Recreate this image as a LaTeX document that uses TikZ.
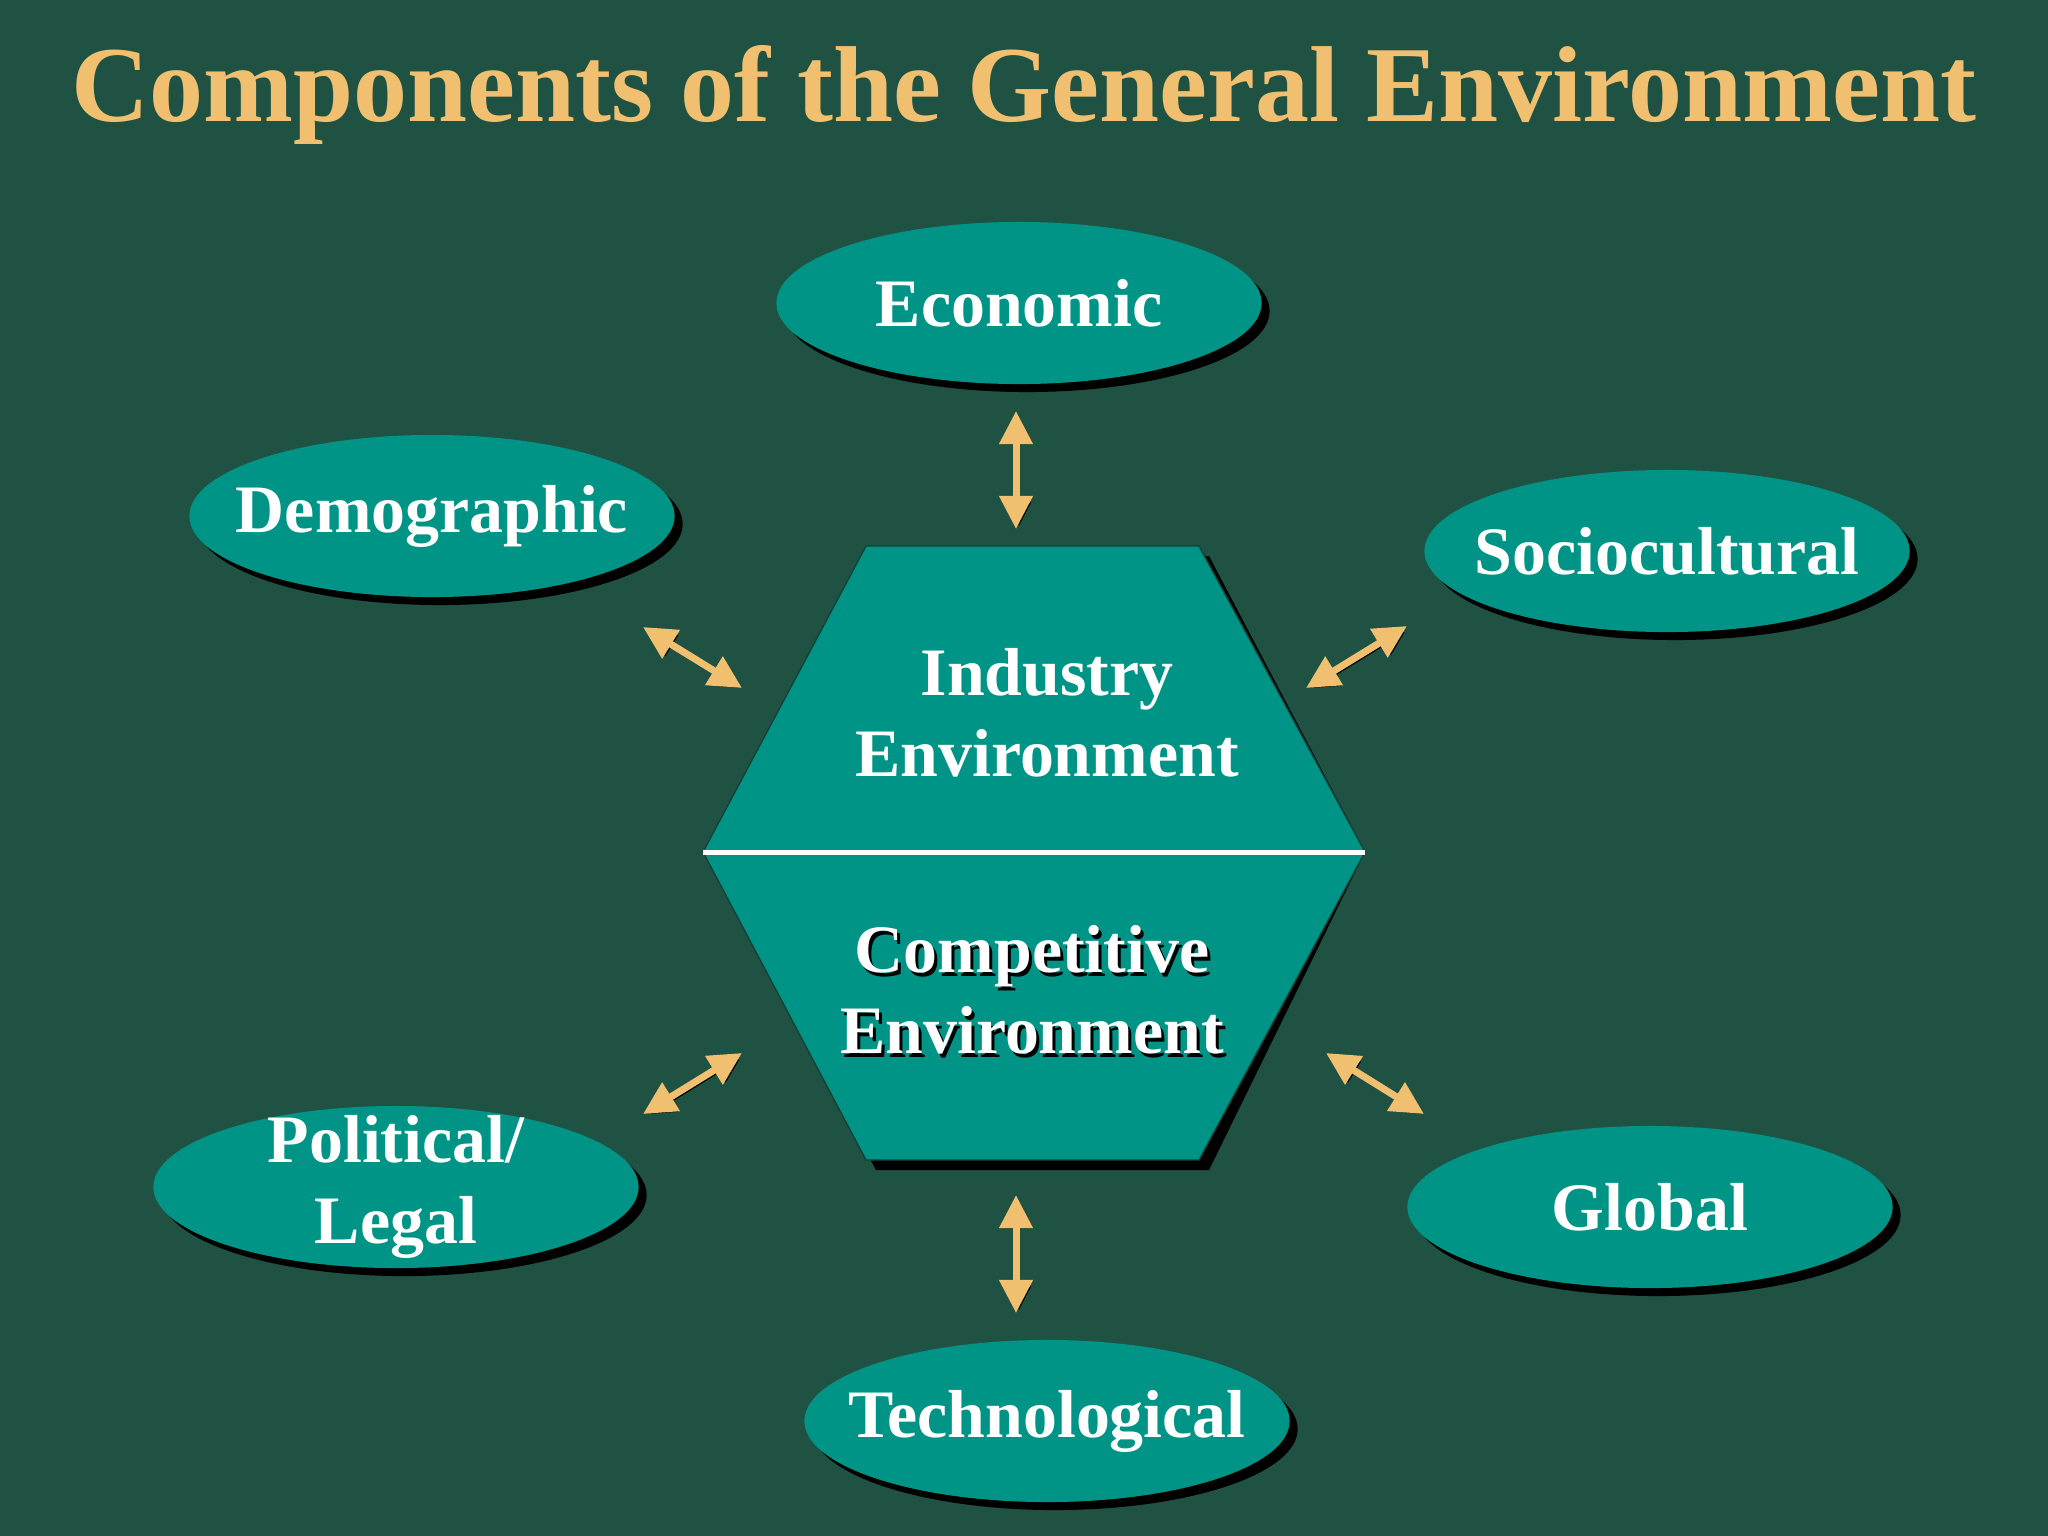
\documentclass[tikz,border=0pt]{standalone}
\usepackage{fontspec}
\setmainfont{Liberation Serif}
\usetikzlibrary{shapes.geometric,shadows,arrows.meta}

\definecolor{bggreen}{RGB}{31,82,66}
\definecolor{tealfill}{RGB}{0,148,134}
\definecolor{hexedge}{RGB}{20,66,56}
\definecolor{gold}{RGB}{240,192,112}

\begin{document}
\begin{tikzpicture}[x=0.01cm, y=-0.01cm,
  every node/.style = {
    text = white,
    align = center,
    font = \bfseries\fontsize{19.3}{23}\selectfont,
  },
  factor/.style = {
    ellipse,
    fill = tealfill,
    inner xsep = -1.2cm,
    inner ysep = -0.4cm,
    minimum width = 4.85cm,
    minimum height = 1.62cm,
    drop shadow = {shadow xshift = 0.08cm, shadow yshift = -0.08cm,
      fill = black, opacity = 1},
  },
  twoway/.style = {
    {Triangle[length=0.33cm,width=0.32cm]}-{Triangle[length=0.33cm,width=0.32cm]},
    draw = gold,
    line width = 0.07cm,
    preaction = {draw = black,
      transform canvas = {xshift = 0.03cm, yshift = -0.03cm}},
  },
]
\fill[bggreen] (0,0) rectangle (2048,1536);
\useasboundingbox (0,0) rectangle (2048,1536);

\node[text = gold, font = \bfseries\fontsize{30.7}{36}\selectfont]
  (title) at (1024,95) {Components of the General Environment};

% centre hexagon
\coordinate (hexW) at (703,852);
\coordinate (hexE) at (1365,852);
\fill[black, shift={(10,10)}] (866,546) -- (1199,546) -- (hexE) -- (1199,1160)
  -- (866,1160) -- (hexW) -- cycle;
\filldraw[fill = tealfill, draw = hexedge] (866,546) -- (1199,546) -- (hexE)
  -- (1199,1160) -- (866,1160) -- (hexW) -- cycle;
\draw[white, line width = 0.05cm] (hexW) -- (hexE);

\node (industry) at (1047,713) {Industry\\Environment};
\node[text = black] (competitiveshade) at (1035,994) {Competitive\\Environment};
\node (competitive) at (1032,990) {Competitive\\Environment};

% outer components
\node[factor] (economic) at (1019,303) {Economic};
\node[factor] (demographic) at (432,516) {Demographic};
\node[factor] (sociocultural) at (1667,551) {Sociocultural};
\node[factor] (political) at (396,1187) {Political/\\Legal};
\node[factor] (global) at (1650,1207) {Global};
\node[factor] (technological) at (1047,1421) {Technological};

% arrow ends
\coordinate (econA) at (1016,411);
\coordinate (econB) at (1016,529);
\coordinate (demoA) at (643,627);
\coordinate (demoB) at (742,688);
\coordinate (socioA) at (1407,626);
\coordinate (socioB) at (1306,688);
\coordinate (poliA) at (643,1114);
\coordinate (poliB) at (742,1053);
\coordinate (globA) at (1424,1114);
\coordinate (globB) at (1326,1053);
\coordinate (techA) at (1016,1313);
\coordinate (techB) at (1016,1195);

\foreach \a/\b in {econA/econB, demoA/demoB, socioA/socioB,
                   poliA/poliB, globA/globB, techA/techB}
  \draw[twoway] (\a) -- (\b);
\end{tikzpicture}
\end{document}
